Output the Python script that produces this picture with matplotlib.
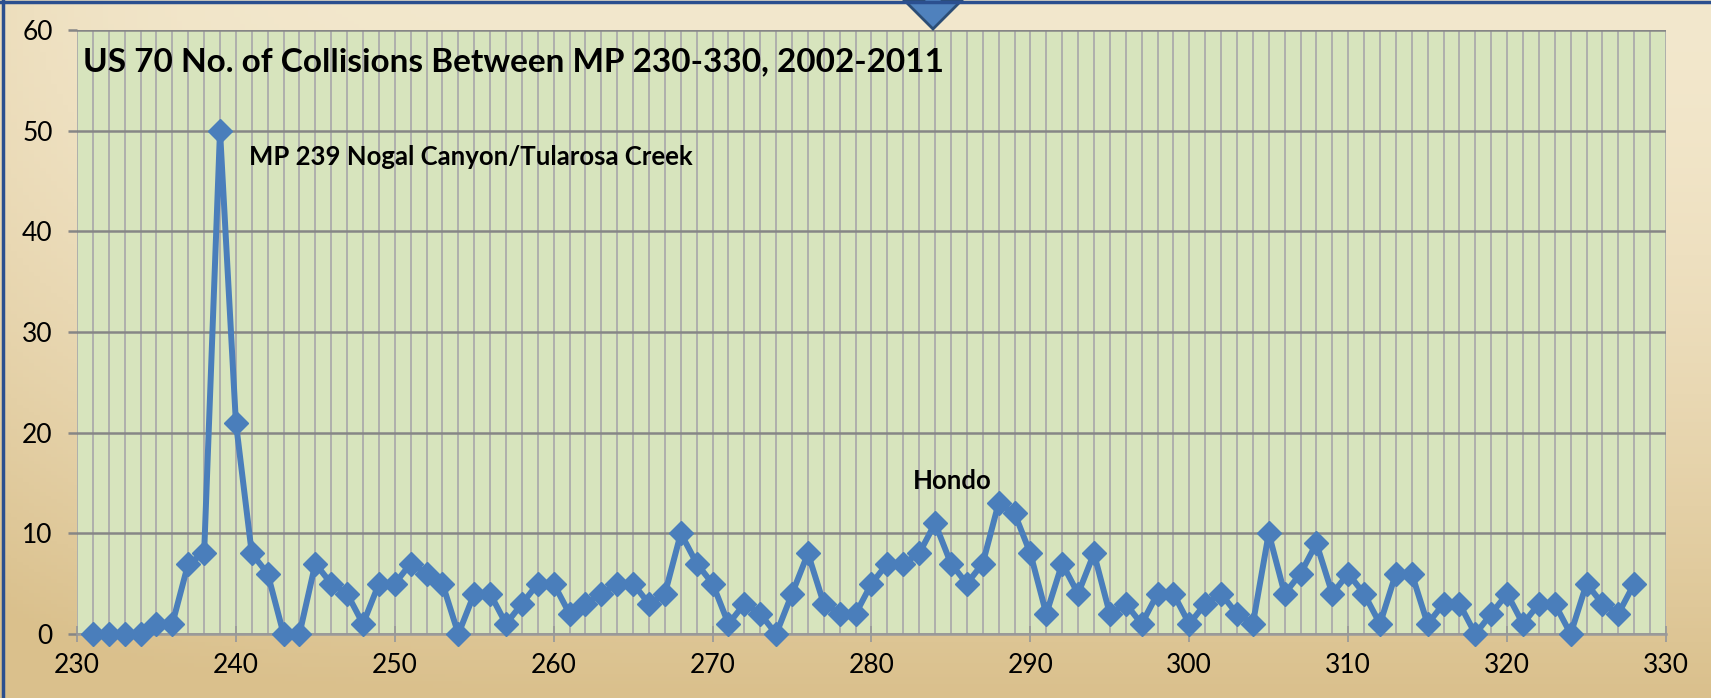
import numpy as np
import matplotlib
matplotlib.use('Agg')
import matplotlib.pyplot as plt
from matplotlib.patches import Polygon
from matplotlib.lines import Line2D

plt.rcParams['font.family'] = ['Lato', 'DejaVu Sans']

# mile posts and collision counts
mile_posts = list(range(231, 329))
collisions = [0, 0, 0, 0, 1, 1, 7, 8, 50, 21,
              8, 6, 0, 0, 7, 5, 4, 1, 5, 5,
              7, 6, 5, 0, 4, 4, 1, 3, 5, 5,
              2, 3, 4, 5, 5, 3, 4, 10, 7, 5,
              1, 3, 2, 0, 4, 8, 3, 2, 2, 5,
              7, 7, 8, 11, 7, 5, 7, 13, 12, 8,
              2, 7, 4, 8, 2, 3, 1, 4, 4, 1,
              3, 4, 2, 1, 10, 4, 6, 9, 4, 6,
              4, 1, 6, 6, 1, 3, 3, 0, 2, 4,
              1, 3, 3, 0, 5, 3, 2, 5]
x_ticks = list(range(230, 331, 10))
y_ticks = list(range(0, 61, 10))

title = "US 70 No. of Collisions Between MP 230-330, 2002-2011"
labels = [("MP 239 Nogal Canyon/Tularosa Creek", 240.8, 47.4, 'left'),
          ("Hondo", 285.1, 15.2, 'center')]

W, H = 1711, 698
fig = plt.figure(figsize=(W / 100, H / 100), dpi=100)

# sandy background gradient
bg = fig.add_axes([0, 0, 1, 1], zorder=-10)
yy, xx = np.mgrid[0:1:200j, 0:1:300j]
top = np.array([243, 232, 205]) / 255
bot = np.array([218, 192, 140]) / 255
t = np.clip(yy ** 1.6 + 0.25 * np.exp(-xx * 12) * (1 - yy * 0.3), 0, 1)
img = top[None, None, :] * (1 - t[..., None]) + bot[None, None, :] * t[..., None]
bg.imshow(img, aspect='auto', extent=[0, 1, 0, 1], origin='upper')
bg.set_axis_off()

ax = fig.add_axes([77 / W, 1 - 634 / H, (1666 - 77) / W, (634 - 30) / H])
ax.set_facecolor('#D7E4BD')

ax.plot(mile_posts, collisions, color='#4A7EBB', lw=4.3, marker='D',
        markersize=12.5, markeredgecolor='#4A7EBB', zorder=3, clip_on=False)

ax.set_xlim(230, 330)
ax.set_ylim(0, 60)
ax.set_xticks(x_ticks)
ax.set_yticks(y_ticks)
ax.set_xticks(range(230, 331), minor=True)
ax.grid(True, which='minor', axis='x', color='#ABABAB', lw=1.3)
ax.grid(True, which='major', axis='x', color='#ABABAB', lw=1.3)
ax.grid(True, which='major', axis='y', color='#868686', lw=1.8)
ax.tick_params(axis='x', which='major', direction='inout', length=11.5,
               width=1.3, color='#9A9A9A', labelsize=19, pad=8)
ax.tick_params(axis='x', which='minor', length=0)
ax.tick_params(axis='y', direction='out', length=6.5, width=1.8,
               color='#868686', labelsize=19, pad=11)
for s in ['top', 'right', 'left']:
    ax.spines[s].set_visible(False)
ax.spines['bottom'].set_color('#9A9A9A')
ax.spines['bottom'].set_linewidth(1.8)
ax.set_axisbelow(True)

ax.text(230.4, 56.8, title, fontsize=24, fontweight='bold', va='center', ha='left')
for txt, lx, ly, align in labels:
    ax.text(lx, ly, txt, fontsize=18.5, fontweight='bold', va='center', ha=align)

# blue frame edges
fig.add_artist(Line2D([2.5 / W, 2.5 / W], [0, 1], color='#2B4F8F', lw=2.5))
fig.add_artist(Line2D([0, 1], [1 - 1.5 / H, 1 - 1.5 / H], color='#2B4F8F', lw=2.5))

# block arrow pointing down at top
cx = 933
pts = [(cx - 9, -5), (cx + 9, -5), (cx + 9, 0), (cx + 29, 0), (cx, 29),
       (cx - 29, 0), (cx - 9, 0)]
pts = [(px / W, 1 - py / H) for px, py in pts]
fig.add_artist(Polygon(pts, closed=True, facecolor='#4F81BD',
                       edgecolor='#2C4D75', lw=2, transform=fig.transFigure))

fig.savefig('out.png', dpi=100)
